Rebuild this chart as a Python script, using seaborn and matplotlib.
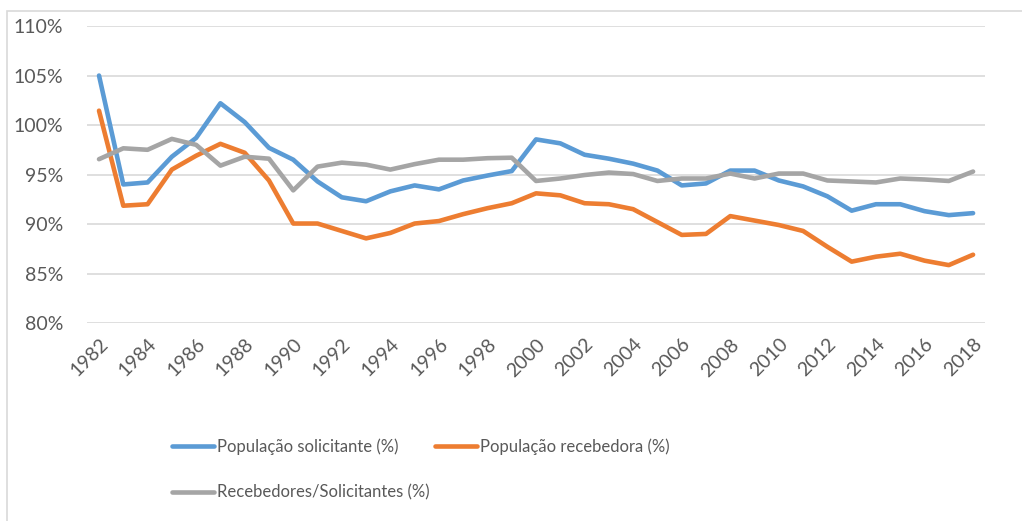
import pandas as pd
import matplotlib.pyplot as plt
import matplotlib.ticker as mticker
from matplotlib.patches import Rectangle
import seaborn as sns

# Dados (valores em %)
anos = list(range(1982, 2019))

solicitante = [105.0, 94.0, 94.2, 96.8, 98.7, 102.2, 100.3, 97.7, 96.5, 94.3,
               92.7, 92.3, 93.3, 93.9, 93.5, 94.4, 94.9, 95.35, 98.55, 98.15,
               97.0, 96.6, 96.1, 95.4, 93.9, 94.1, 95.4, 95.4, 94.4, 93.8,
               92.8, 91.35, 92.0, 92.0, 91.3, 90.9, 91.1]

recebedora = [101.45, 91.85, 92.0, 95.5, 96.9, 98.1, 97.2, 94.4, 90.05, 90.05,
              89.3, 88.55, 89.1, 90.05, 90.3, 91.0, 91.6, 92.1, 93.1, 92.9,
              92.1, 92.0, 91.5, 90.2, 88.9, 89.0, 90.8, 90.35, 89.9, 89.3,
              87.7, 86.2, 86.7, 87.0, 86.3, 85.85, 86.9]

razao = [96.55, 97.65, 97.5, 98.6, 98.0, 95.9, 96.8, 96.6, 93.4, 95.8,
         96.2, 96.0, 95.5, 96.05, 96.5, 96.5, 96.65, 96.7, 94.35, 94.6,
         94.95, 95.2, 95.05, 94.35, 94.6, 94.6, 95.1, 94.6, 95.1, 95.1,
         94.4, 94.3, 94.2, 94.6, 94.5, 94.35, 95.3]

series = ['População solicitante (%)', 'População recebedora (%)', 'Recebedores/Solicitantes (%)']
cores = ['#5B9BD5', '#ED7D31', '#A5A5A5']

df = pd.DataFrame({'Ano': anos, series[0]: solicitante, series[1]: recebedora, series[2]: razao})
df_long = df.melt(id_vars='Ano', var_name='Serie', value_name='Valor')

sns.set_theme(style="white")
plt.rcParams['font.family'] = ['Lato', 'DejaVu Sans']
texto = '#595959'

fig = plt.figure(figsize=(10.22, 5.21), dpi=100)
ax = fig.add_axes([0.085, 0.380, 0.879, 0.570])

# moldura do gráfico
fig.patches.append(Rectangle((0.007, -0.01), 1.2, 0.989, transform=fig.transFigure,
                             fill=False, edgecolor='#D9D9D9', lw=1.2))

sns.lineplot(data=df_long, x='Ano', y='Valor', hue='Serie', hue_order=series,
             palette=cores, linewidth=3.3, ax=ax, legend=False)

ax.set_xlim(1981.5, 2018.5)
ax.set_ylim(80, 110)
ax.set_yticks(range(80, 111, 5))
ax.yaxis.set_major_formatter(mticker.FuncFormatter(lambda v, p: f'{v:.0f}%'))
ax.set_xticks(anos[::2])
ax.set_xticklabels([str(a) for a in anos[::2]], rotation=45, ha='right',
                   rotation_mode='anchor')
ax.set_xlabel('')
ax.set_ylabel('')
ax.grid(axis='y', color='#D9D9D9', linewidth=1.2)
ax.set_axisbelow(True)
for s in ax.spines.values():
    s.set_visible(False)
ax.tick_params(axis='y', length=0, pad=17, labelsize=14, labelcolor=texto)
ax.tick_params(axis='x', length=0, pad=9, labelsize=14, labelcolor=texto)
for lbl in ax.get_xticklabels():
    lbl.set_x(lbl.get_position()[0])

# legenda abaixo do gráfico
linhas = ax.get_lines()
handles = [linhas[0], linhas[2], linhas[1]]
labels = [series[0], series[2], series[1]]
leg = fig.legend(handles, labels, loc='upper left',
                 bbox_to_anchor=(0.162, 1 - 432 / 521), bbox_transform=fig.transFigure,
                 ncol=2, frameon=False, fontsize=12, handlelength=2.5,
                 handletextpad=0.2, columnspacing=0.3, labelspacing=1.75,
                 labelcolor=texto, borderaxespad=0)

fig.savefig('out.png', dpi=100)
